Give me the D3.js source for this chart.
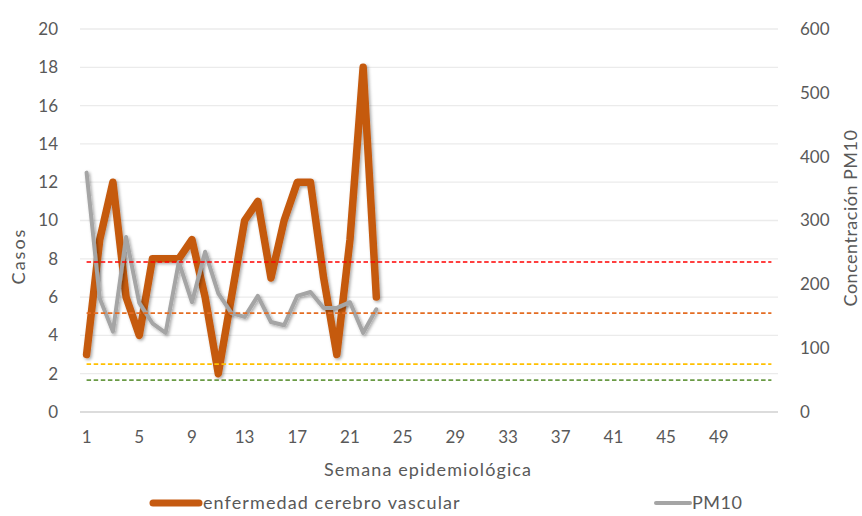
<!DOCTYPE html>
<html>
<head>
<meta charset="utf-8">
<script src="https://cdn.jsdelivr.net/npm/d3@7"></script>
<style>
  html, body { margin: 0; padding: 0; background: #fff; }
  svg { display: block; }
  text { font-family: Lato, "Open Sans", sans-serif; fill: #595959; }
</style>
</head>
<body>
<svg id="chart" width="862" height="516"></svg>
<script>
// Weekly cerebrovascular disease cases and PM10 concentration
const weeks = d3.range(1, 54);
const casos = [3, 9, 12, 6, 4, 8, 8, 8, 9, 6, 2, 6, 10, 11, 7, 10, 12, 12, 7, 3, 9, 18, 6];
const pm10 = [375, 178, 126, 274, 171, 139, 124, 235, 172, 251, 186, 155, 149, 182, 141, 136, 182, 188, 163, 163, 172, 124, 161];
// PM10 reference levels drawn across every week
const pm10Levels = [235, 155, 75, 50];
const leftTicks = d3.range(0, 21, 2);
const rightTicks = d3.range(0, 601, 100);
const xTickWeeks = d3.range(1, 50, 4);

const levelColors = ["#FF0000", "#E46C22", "#FFC000", "#6A9A45"];
const casosColor = "#C55A11";
const pmColor = "#A5A5A5";

const svg = d3.select("#chart");
const plot = { left: 80, right: 778, top: 29, bottom: 412 };

const x = d3.scaleBand().domain(weeks).range([plot.left, plot.right]).padding(0);
const cx = w => x(w) + x.bandwidth() / 2;
const yL = d3.scaleLinear().domain([0, 20]).range([plot.bottom, plot.top]);
const yR = d3.scaleLinear().domain([0, 600]).range([plot.bottom, plot.top]);

// soft shadow under the data lines
const defs = svg.append("defs");
const f = defs.append("filter").attr("id", "shadow")
  .attr("x", "-10%").attr("y", "-10%").attr("width", "120%").attr("height", "120%");
f.append("feDropShadow").attr("dx", 1.5).attr("dy", 1.5)
  .attr("stdDeviation", 1.6).attr("flood-color", "#000").attr("flood-opacity", 0.35);

// horizontal gridlines
svg.append("g").selectAll("line").data(leftTicks).join("line")
  .attr("x1", plot.left).attr("x2", plot.right)
  .attr("y1", d => yL(d)).attr("y2", d => yL(d))
  .attr("stroke", d => d === 0 ? "#D0D0D0" : "#EBEBEB")
  .attr("stroke-width", d => d === 0 ? 1.5 : 1.3);

// left axis
const axL = svg.append("g").attr("transform", `translate(${plot.left - 22},0)`)
  .call(d3.axisLeft(yL).tickValues(leftTicks).tickSize(0).tickPadding(0));
axL.select(".domain").remove();
axL.selectAll("text").attr("font-size", 17).attr("fill", "#595959")
  .style("font-family", "Lato, sans-serif");

// right axis
const axR = svg.append("g").attr("transform", `translate(${plot.right + 22},0)`)
  .call(d3.axisRight(yR).tickValues(rightTicks).tickSize(0).tickPadding(0));
axR.select(".domain").remove();
axR.selectAll("text").attr("font-size", 17).attr("fill", "#595959")
  .style("font-family", "Lato, sans-serif");

// bottom axis
const axB = svg.append("g").attr("transform", `translate(0,${plot.bottom + 18})`)
  .call(d3.axisBottom(x).tickValues(xTickWeeks).tickSize(0).tickPadding(0));
axB.select(".domain").remove();
axB.selectAll("text").attr("font-size", 17).attr("fill", "#595959")
  .attr("dy", "0.75em").style("font-family", "Lato, sans-serif");

// data lines
const lineL = d3.line().x((d, i) => cx(weeks[i])).y(d => yL(d));
const lineR = d3.line().x((d, i) => cx(weeks[i])).y(d => yR(d));

svg.append("path").datum(casos).attr("d", lineL)
  .attr("fill", "none").attr("stroke", casosColor).attr("stroke-width", 7.5)
  .attr("stroke-linejoin", "round").attr("stroke-linecap", "round")
  .attr("filter", "url(#shadow)");

svg.append("path").datum(pm10).attr("d", lineR)
  .attr("fill", "none").attr("stroke", pmColor).attr("stroke-width", 4)
  .attr("stroke-linejoin", "round").attr("stroke-linecap", "round")
  .attr("filter", "url(#shadow)");

// reference levels
svg.append("g").selectAll("path").data(pm10Levels).join("path")
  .attr("d", v => lineR(weeks.map(() => v)))
  .attr("fill", "none")
  .attr("stroke", (v, i) => levelColors[i])
  .attr("stroke-width", 1.7)
  .attr("stroke-dasharray", "4.5,2.6");

// axis titles
svg.append("text").attr("transform", "translate(25,256) rotate(-90)")
  .attr("text-anchor", "middle").attr("font-size", 18)
  .attr("letter-spacing", 2).text("Casos");
svg.append("text").attr("transform", "translate(857,218) rotate(-90)")
  .attr("text-anchor", "middle").attr("font-size", 18)
  .attr("letter-spacing", 0.5).text("Concentración PM10");
svg.append("text").attr("x", 428).attr("y", 476)
  .attr("text-anchor", "middle").attr("font-size", 18)
  .attr("letter-spacing", 1.1).text("Semana epidemiológica");

// legend
const lg = svg.append("g");
lg.append("line").attr("x1", 153).attr("x2", 199).attr("y1", 503).attr("y2", 503)
  .attr("stroke", casosColor).attr("stroke-width", 7).attr("stroke-linecap", "round");
lg.append("text").attr("x", 203).attr("y", 509).attr("font-size", 18)
  .attr("letter-spacing", 1.1).text("enfermedad cerebro vascular");
lg.append("line").attr("x1", 656).attr("x2", 690).attr("y1", 503).attr("y2", 503)
  .attr("stroke", pmColor).attr("stroke-width", 4).attr("stroke-linecap", "round");
lg.append("text").attr("x", 692).attr("y", 509).attr("font-size", 18)
  .attr("letter-spacing", 0.5).text("PM10");
</script>
</body>
</html>
